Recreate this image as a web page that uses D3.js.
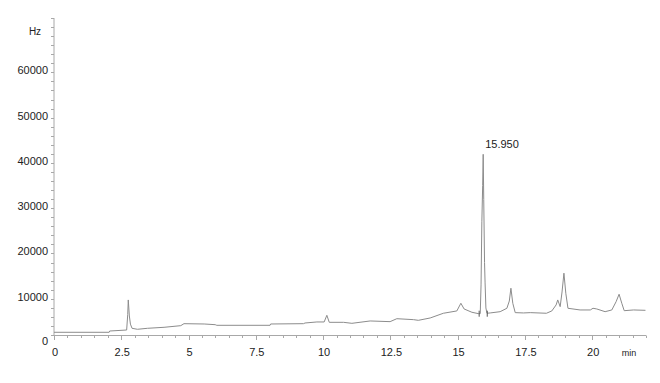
<!DOCTYPE html>
<html>
<head>
<meta charset="utf-8">
<script src="https://cdn.jsdelivr.net/npm/d3@7"></script>
<style>
  html, body { margin: 0; padding: 0; background: #fff; }
  svg { display: block; font-family: 'Liberation Sans', Arial, sans-serif; }
</style>
</head>
<body>
<div id="chart"></div>
<script>
// chromatogram trace (time in min, signal in Hz)
const times = [0, 2.05, 2.07, 2.70, 2.74, 2.76, 2.80, 2.84, 2.90, 3.10, 3.47, 4.09, 4.71, 4.83, 5.58, 5.99, 6.05,
  8.03, 8.05, 9.27, 9.33, 9.77, 10.04, 10.14, 10.23, 10.76, 11.07, 11.75, 12.49, 12.74, 13.36, 13.54, 13.98,
  14.47, 14.97, 15.12, 15.24, 15.53, 15.77, 15.84, 15.87, 15.90, 15.93, 15.95, 15.97, 16.00, 16.02, 16.05, 16.09,
  16.21, 16.58, 16.83, 16.92, 16.98, 17.05, 17.14, 17.45, 17.70, 18.30, 18.50, 18.66, 18.72, 18.81, 18.88,
  18.95, 19.02, 19.10, 19.55, 19.93, 20.03, 20.17, 20.48, 20.73, 20.89, 21.00, 21.10, 21.19, 21.54, 21.98];
const signal = [600, 600, 880, 1100, 4500, 7740, 4200, 2400, 1480, 1260, 1480, 1700, 2060, 2500, 2430, 2280, 2140,
  2140, 2430, 2500, 2650, 2880, 2880, 4350, 2800, 2800, 2580, 3100, 2950, 3600, 3390, 3240, 3760,
  4800, 5310, 7010, 5750, 5020, 4720, 4720, 11060, 25000, 33000, 39900, 29900, 16000, 11500, 5970, 4800,
  4870, 5150, 5900, 7500, 10330, 7000, 4940, 4870, 4940, 4800, 5310, 6640, 7740, 6260, 9500,
  13650, 9220, 5900, 5530, 5530, 5900, 5750, 5150, 5530, 7370, 9000, 7010, 5370, 5530, 5450];

const peakLabels = [{ t: 15.95, text: '15.950' }];
const integrationMarks = [15.80, 16.10];

const yMajor = [10000, 20000, 30000, 40000, 50000, 60000];
const xMajor = [0, 2.5, 5, 7.5, 10, 12.5, 15, 17.5, 20];

const width = 660, height = 383;
const x = d3.scaleLinear().domain([0, 22]).range([54, 646]);
const y = d3.scaleLinear().domain([0, 70000]).range([335, 18]);

const svg = d3.select('#chart').append('svg')
  .attr('width', width).attr('height', height);

const axisColor = '#a8a8a8';

// y axis
const gy = svg.append('g');
gy.append('line')
  .attr('x1', x(0)).attr('x2', x(0))
  .attr('y1', y(70000)).attr('y2', y(0))
  .attr('stroke', axisColor);
gy.selectAll('line.tick')
  .data(d3.range(0, 70001, 2000))
  .join('line')
  .attr('class', 'tick')
  .attr('x1', x(0) - 3).attr('x2', x(0))
  .attr('y1', d => Math.round(y(d)) + 0.5).attr('y2', d => Math.round(y(d)) + 0.5)
  .attr('stroke', axisColor);
gy.selectAll('text')
  .data([0, ...yMajor])
  .join('text')
  .attr('x', 48)
  .attr('y', d => y(d) + (d === 0 ? 10 : 11))
  .attr('text-anchor', 'end')
  .attr('font-size', 11)
  .attr('fill', '#222')
  .text(d => d);
svg.append('text')
  .attr('x', 35).attr('y', 35)
  .attr('text-anchor', 'middle')
  .attr('font-size', 10)
  .attr('fill', '#222')
  .text('Hz');

// x axis
const gx = svg.append('g');
gx.append('line')
  .attr('x1', x(0)).attr('x2', x(22))
  .attr('y1', 335.5).attr('y2', 335.5)
  .attr('stroke', axisColor);
gx.selectAll('line.tick')
  .data(d3.range(0, 22.01, 0.5))
  .join('line')
  .attr('class', 'tick')
  .attr('x1', d => Math.round(x(d)) + 0.5).attr('x2', d => Math.round(x(d)) + 0.5)
  .attr('y1', 335.5)
  .attr('y2', d => (d % 2.5 === 0 ? 340 : 338))
  .attr('stroke', axisColor);
gx.selectAll('text')
  .data(xMajor)
  .join('text')
  .attr('x', d => x(d) + 1)
  .attr('y', 356)
  .attr('text-anchor', 'middle')
  .attr('font-size', 11)
  .attr('fill', '#222')
  .text(d => d);
svg.append('text')
  .attr('x', 629).attr('y', 356)
  .attr('text-anchor', 'middle')
  .attr('font-size', 9)
  .attr('fill', '#222')
  .text('min');

// trace
const points = times.map((t, i) => [t, signal[i]]);
svg.append('path')
  .datum(points)
  .attr('fill', 'none')
  .attr('stroke', '#8c8c8c')
  .attr('stroke-width', 1)
  .attr('d', d3.line().x(d => x(d[0])).y(d => y(d[1])));

// integration marks at peak base
svg.selectAll('line.mark')
  .data(integrationMarks)
  .join('line')
  .attr('class', 'mark')
  .attr('x1', d => x(d)).attr('x2', d => x(d))
  .attr('y1', y(4700) - 3).attr('y2', y(4700) + 3)
  .attr('stroke', '#555');

// peak label
svg.selectAll('text.peak')
  .data(peakLabels)
  .join('text')
  .attr('class', 'peak')
  .attr('x', d => x(d.t) + 2)
  .attr('y', 148)
  .attr('font-size', 11)
  .attr('fill', '#222')
  .text(d => d.text);
</script>
</body>
</html>
